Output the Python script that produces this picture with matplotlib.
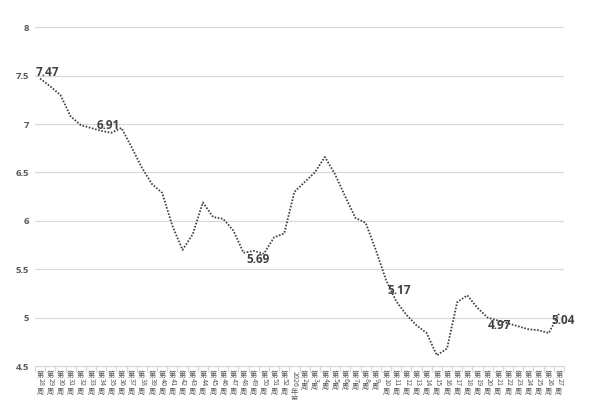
import matplotlib
matplotlib.use("Agg")
import matplotlib.pyplot as plt
from matplotlib.ticker import FixedLocator

plt.rcParams['font.family'] = ['Noto Sans CJK SC', 'DejaVu Sans']

weeks = ["第28周", "第29周", "第30周", "第31周", "第32周", "第33周", "第34周", "第35周",
         "第36周", "第37周", "第38周", "第39周", "第40周", "第41周", "第42周", "第43周",
         "第44周", "第45周", "第46周", "第47周", "第48周", "第49周", "第50周", "第51周",
         "第52周", "2026年第1周", "第2周", "第3周", "第4周", "第5周", "第6周", "第7周",
         "第8周", "第9周", "第10周", "第11周", "第12周", "第13周", "第14周", "第15周",
         "第16周", "第17周", "第18周", "第19周", "第20周", "第21周", "第22周", "第23周",
         "第24周", "第25周", "第26周", "第27周"]

prices = [7.47, 7.39, 7.30, 7.08, 6.99, 6.96, 6.93, 6.91, 6.96, 6.76,
          6.55, 6.38, 6.29, 5.95, 5.70, 5.86, 6.19, 6.04, 6.02, 5.90,
          5.67, 5.69, 5.66, 5.83, 5.87, 6.30, 6.40, 6.50, 6.66, 6.48,
          6.25, 6.03, 5.98, 5.70, 5.39, 5.17, 5.03, 4.92, 4.84, 4.61,
          4.68, 5.16, 5.23, 5.10, 5.00, 4.97, 4.94, 4.91, 4.88, 4.87,
          4.84, 5.04]

labeled_idx = [0, 7, 21, 35, 45, 51]

y_ticks = [4.5, 5, 5.5, 6, 6.5, 7, 7.5, 8]
y_tick_labels = ["4.5", "5", "5.5", "6", "6.5", "7", "7.5", "8"]

# label offsets (points) for data labels
label_offsets = {0: (5.5, 4.6), 7: (-1.9, 5.5), 21: (2.8, -6.0),
                 35: (1.9, 7.7), 45: (1.0, -3.3), 51: (2.9, -4.8)}

GRID = '#d9d9d9'
TXT = '#595959'

fig = plt.figure(figsize=(6, 4), dpi=100)
ax = fig.add_axes([35 / 600, 1 - 366 / 400, 529 / 600, (366 - 27.3) / 400])

xs = list(range(len(prices)))
ax.plot(xs, prices, color='#404040', lw=1.3, linestyle=(0, (0.9, 0.9)), zorder=3)

ax.set_xlim(-0.5, len(prices) - 0.5)
ax.set_ylim(4.5, 8)

ax.set_yticks(y_ticks)
ax.set_yticklabels(y_tick_labels, fontsize=6.8, color=TXT,
                   family=['Open Sans', 'DejaVu Sans'], fontweight='bold')
ax.tick_params(axis='y', length=0, pad=4.3)
for v in y_ticks[1:]:
    ax.axhline(v, color=GRID, lw=0.9, zorder=1)

for s in ['top', 'right', 'left']:
    ax.spines[s].set_visible(False)
ax.spines['bottom'].set_color(GRID)
ax.spines['bottom'].set_linewidth(0.9)

ax.set_xticks(xs)
ax.set_xticklabels([])
ax.tick_params(axis='x', which='major', length=0)
ax.xaxis.set_minor_locator(FixedLocator([i - 0.5 for i in range(len(prices) + 1)]))
ax.tick_params(axis='x', which='minor', length=4, color=GRID, width=0.9)


def vertical_label(x, text, fs=5.2):
    off = 3.6
    runs = []
    for ch in text:
        is_ascii = ord(ch) < 128
        if runs and is_ascii and runs[-1][1]:
            runs[-1][0] += ch
        else:
            runs.append([ch, is_ascii])
    for run, is_ascii in runs:
        if is_ascii:
            ax.annotate(run, xy=(x, 0), xycoords=('data', 'axes fraction'),
                        xytext=(0.4, -off), textcoords='offset points',
                        ha='center', va='top', rotation=-90, fontsize=fs,
                        color=TXT, annotation_clip=False)
            off += len(run) * fs * 0.57 + fs * 0.12
        else:
            ax.annotate(run, xy=(x, 0), xycoords=('data', 'axes fraction'),
                        xytext=(0, -off), textcoords='offset points',
                        ha='center', va='top', fontsize=fs, color=TXT,
                        annotation_clip=False)
            off += fs * 1.02


for i, w in enumerate(weeks):
    vertical_label(i, w)

for i in labeled_idx:
    dx, dy = label_offsets[i]
    ax.annotate(f"{prices[i]:.2f}", xy=(i, prices[i]), xytext=(dx, dy),
                textcoords='offset points', ha='center', va='center',
                fontsize=8.5, fontweight='bold', color='#404040',
                family=['Open Sans', 'DejaVu Sans'], zorder=5,
                annotation_clip=False)

fig.savefig('out.png', dpi=100)
